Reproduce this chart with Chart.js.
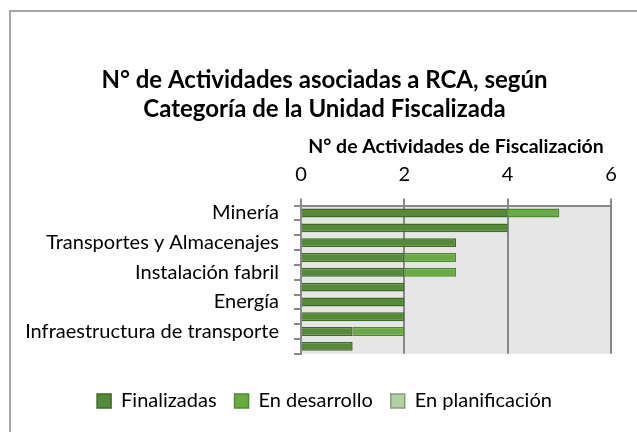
<!DOCTYPE html>
<html>
<head>
<meta charset="utf-8">
<script src="https://cdn.jsdelivr.net/npm/chart.js@4.4.0/dist/chart.umd.min.js"></script>
<style>
  html, body { margin: 0; padding: 0; background: #fff; }
  #wrap { position: relative; width: 637px; height: 432px; overflow: hidden; }
  #frame { position: absolute; left: 9px; top: 10px; width: 700px; height: 500px; border: 2px solid #a6a6a6; }
  canvas { position: absolute; left: 0; top: 0; }
</style>
</head>
<body>
<div id="wrap">
  <div id="frame"></div>
  <canvas id="chart" width="637" height="432"></canvas>
</div>
<script>
// categories (only every other label is shown in the original)
const categorias = [
  'Minería',
  'Saneamiento ambiental',
  'Transportes y Almacenajes',
  'Agroindustria',
  'Instalación fabril',
  'Pesca y acuicultura',
  'Energía',
  'Vivienda e inmobiliarios',
  'Infraestructura de transporte',
  'Infraestructura portuaria'
];
const finalizadas     = [4, 4, 3, 2, 2, 2, 2, 2, 1, 1];
const enDesarrollo    = [1, 0, 0, 1, 1, 0, 0, 0, 1, 0];
const enPlanificacion = [0, 0, 0, 0, 0, 0, 0, 0, 0, 0];
const ticksX = [0, 2, 4, 6];

Chart.defaults.font.family = 'Lato, "Open Sans", sans-serif';
Chart.defaults.color = '#000';

const plotBg = {
  id: 'plotBg',
  beforeDraw(chart) {
    const a = chart.chartArea, ctx = chart.ctx;
    ctx.save();
    ctx.fillStyle = '#e6e6e6';
    ctx.fillRect(a.left, a.top, a.right - a.left, a.bottom - a.top);
    ctx.restore();
  }
};

const ctx = document.getElementById('chart');
new Chart(ctx, {
  type: 'bar',
  data: {
    labels: categorias,
    datasets: [
      { label: 'Finalizadas', data: finalizadas, backgroundColor: '#558a38', borderColor: '#3e6a28', borderWidth: 1.5 },
      { label: 'En desarrollo', data: enDesarrollo, backgroundColor: '#6aaa42', borderColor: '#4e8a30', borderWidth: 1.5 },
      { label: 'En planificación', data: enPlanificacion, backgroundColor: '#b2d0a2', borderColor: '#869c80', borderWidth: 1.5 }
    ]
  },
  options: {
    indexAxis: 'y',
    responsive: false,
    animation: false,
    layout: { padding: { left: 12, right: 0, top: 0, bottom: 11 } },
    datasets: { bar: { categoryPercentage: 1, barPercentage: 0.6 } },
    plugins: {
      title: {
        display: true,
        text: ['N° de Actividades asociadas a RCA, según', 'Categoría de la Unidad Fiscalizada'],
        font: { size: 24, weight: 'bold' },
        lineHeight: 1.17,
        padding: { top: 66, bottom: 11 },
        color: '#000'
      },
      legend: {
        position: 'bottom',
        title: { display: true, text: '', font: { size: 1 }, padding: { top: 18, bottom: 0 } },
        labels: { boxWidth: 14, boxHeight: 14, font: { size: 20 }, padding: 18 }
      },
      tooltip: { enabled: false }
    },
    scales: {
      x: {
        position: 'top',
        stacked: true,
        min: 0, max: 6,
        afterBuildTicks(scale) { scale.ticks = ticksX.map(v => ({ value: v })); },
        afterFit(scale) { scale.height = 71; },
        ticks: { font: { size: 20 }, padding: 12 },
        grid: { color: '#898989', lineWidth: 2, tickLength: 7, tickColor: '#898989' },
        border: { color: '#898989', width: 2 },
        title: { display: true, text: 'N° de Actividades de Fiscalización', font: { size: 19.5, weight: 'bold' }, padding: { top: 0, bottom: 4 } }
      },
      y: {
        stacked: true,
        afterFit(scale) { scale.width = 289; },
        ticks: {
          autoSkip: false,
          font: { size: 20 },
          padding: 15,
          callback(v, i) { return i % 2 === 0 ? this.getLabelForValue(v) : ''; }
        },
        grid: { offset: true, drawOnChartArea: false, tickLength: 7, color: '#898989', lineWidth: 2 },
        border: { color: '#898989', width: 2 }
      },
      yRight: {
        type: 'linear',
        position: 'right',
        display: true,
        grid: { display: false },
        border: { display: false },
        ticks: { display: false },
        afterFit(scale) { scale.width = 26; }
      }
    }
  },
  plugins: [plotBg]
});
</script>
</body>
</html>
